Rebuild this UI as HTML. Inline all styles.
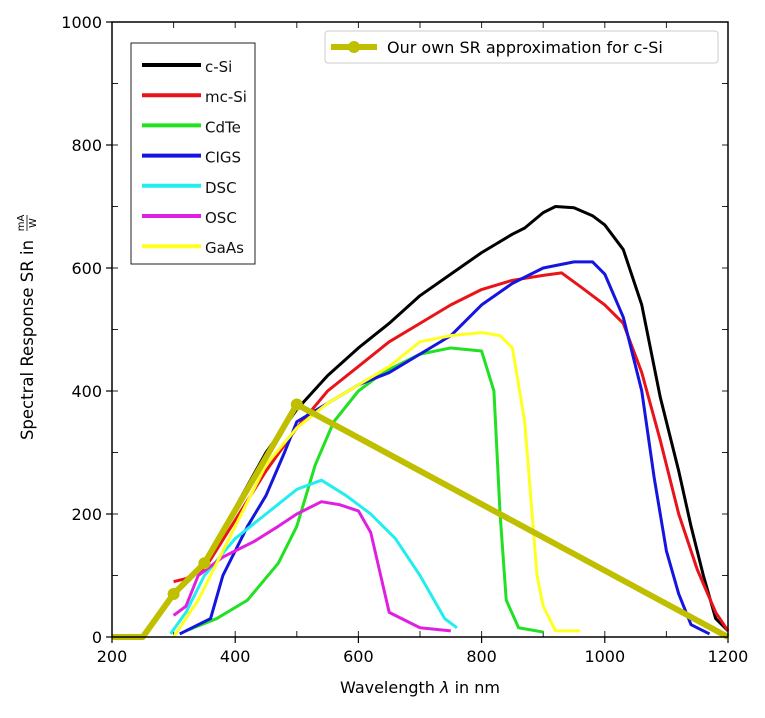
<!DOCTYPE html>
<html><head><meta charset="utf-8"><style>
body{margin:0;background:#fff;}
svg text{font-family:"DejaVu Sans","Liberation Sans",sans-serif;}
</style></head><body>
<svg id="chart" width="765" height="713" viewBox="0 0 765 713">
<g id="plot"></g>
</svg>
<script>
const xTicks=[200,400,600,800,1000,1200];
const yTicks=[0,200,400,600,800,1000];
const names=["c-Si","mc-Si","CdTe","CIGS","DSC","OSC","GaAs"];
const colors=["#000000","#e8141a","#22e022","#1515e0","#22eeee","#e020e0","#ffff22"];
const cSiX=[370,400,450,500,550,600,650,700,750,800,850,870,900,920,950,980,1000,1030,1060,1090,1120,1140,1160,1180,1200];
const cSiY=[150,210,300,370,425,470,510,555,590,625,655,665,690,700,698,685,670,630,540,390,270,180,100,30,10];
const mcSiX=[300,320,350,400,450,500,550,600,650,700,750,800,850,900,930,960,1000,1030,1060,1090,1120,1150,1180,1200];
const mcSiY=[90,95,110,190,270,340,400,440,480,510,540,565,580,588,592,570,540,510,430,320,200,110,40,10];
const cdteX=[320,370,420,470,500,530,560,600,640,700,750,800,820,830,840,860,900];
const cdteY=[10,30,60,120,180,280,350,400,430,460,470,465,400,200,60,15,8];
const cigsX=[310,360,380,420,450,480,500,550,600,650,700,750,800,850,900,950,980,1000,1030,1060,1080,1100,1120,1140,1170];
const cigsY=[5,30,100,180,230,300,350,380,410,430,460,490,540,575,600,610,610,590,520,400,260,140,70,20,5];
const dscX=[295,320,350,400,450,500,540,580,620,660,700,740,760];
const dscY=[5,40,100,160,200,240,255,230,200,160,100,30,15];
const oscX=[300,320,340,380,400,430,470,500,540,570,600,620,650,680,700,750];
const oscY=[35,50,100,130,140,155,180,200,220,215,205,170,40,25,15,10];
const gaasX=[300,340,400,450,500,550,600,650,700,750,800,830,850,870,890,900,920,960];
const gaasY=[0,60,180,280,340,380,410,440,480,490,495,490,470,350,100,50,10,10];
const seriesX=[cSiX,mcSiX,cdteX,cigsX,dscX,oscX,gaasX];
const seriesY=[cSiY,mcSiY,cdteY,cigsY,dscY,oscY,gaasY];
const approxX=[200,250,300,350,500,1200];
const approxY=[0,0,70,120,378,0];
const markerIdx=[2,3,4];

const L=112,R=728,T=22,B=637;
const sx=v=>L+(v-200)/1000*(R-L);
const sy=v=>B-v/1000*(B-T);
const NS="http://www.w3.org/2000/svg";
const svg=document.getElementById('chart');
function mk(tag,attrs,parent){const e=document.createElementNS(NS,tag);for(const k in attrs)e.setAttribute(k,attrs[k]);(parent||svg).appendChild(e);return e;}

for(let v=200;v<=1200;v+=100){
 let t=mk('line',{x1:sx(v),x2:sx(v),y1:T,y2:T+6,stroke:'#222','stroke-width':1});
 
 
 let b=mk('line',{x1:sx(v),x2:sx(v),y1:B,y2:B-6,stroke:'#222','stroke-width':1});
 
 
}
for(let v=100;v<1000;v+=100){
 let t=mk('line',{x1:L,x2:L+6,y1:sy(v),y2:sy(v),stroke:'#222','stroke-width':1});
 
 
 let b=mk('line',{x1:R,x2:R-6,y1:sy(v),y2:sy(v),stroke:'#222','stroke-width':1});
 
 
}

for(let i=0;i<names.length;i++){
 const pts=seriesX[i].map((x,j)=>sx(x)+','+sy(seriesY[i][j])).join(' ');
 const p=mk('polyline',{points:pts,fill:'none',stroke:colors[i],'stroke-width':3,'stroke-linejoin':'round'});
 
 
}
const ap=mk('polyline',{points:approxX.map((x,j)=>sx(x)+','+sy(approxY[j])).join(' '),fill:'none',stroke:'#bfbf00','stroke-width':6,'stroke-linejoin':'round'});


markerIdx.forEach(j=>{
 const c=mk('circle',{cx:sx(approxX[j]),cy:sy(approxY[j]),r:6,fill:'#bfbf00'});
 
 
});

const fr=mk('rect',{x:L,y:T,width:R-L,height:B-T,fill:'none',stroke:'#000','stroke-width':1.5});



xTicks.forEach(v=>{
 const t=mk('line',{x1:sx(v),x2:sx(v),y1:B,y2:B+6,stroke:'#000','stroke-width':1.2});
 
 
 const l=mk('text',{x:sx(v),y:B+25,'text-anchor':'middle','font-size':16});
 l.textContent=v;
 
 
});
yTicks.forEach(v=>{
 const t=mk('line',{x1:L-6,x2:L,y1:sy(v),y2:sy(v),stroke:'#000','stroke-width':1.2});
 
 
 const l=mk('text',{x:L-10,y:sy(v)+6,'text-anchor':'end','font-size':16});
 l.textContent=v;
 
 
});

const lg=mk('g',{});


mk('rect',{x:131,y:43,width:124,height:221,fill:'#fff',stroke:'#222','stroke-width':1},lg);
names.forEach((n,i)=>{
 const y=65+i*30.2;
 mk('line',{x1:142,x2:201,y1:y,y2:y,stroke:colors[i],'stroke-width':4},lg);
 const t=mk('text',{x:205,y:y+7,'font-size':15,'font-family':'Liberation Sans Narrow, Liberation Sans, sans-serif',fill:'#111'},lg);
 t.textContent=n;
 
 
});
</script>
<svg width="765" height="713" style="position:absolute;left:0;top:0">
<g>
<rect x="325" y="31" width="393" height="32" rx="3" fill="#fff" fill-opacity="0.85" stroke="#ccc"/>
<line x1="331" x2="377" y1="47" y2="47" stroke="#bfbf00" stroke-width="6"/>
<circle cx="354" cy="47" r="6" fill="#bfbf00"/>
<text x="387" y="53" font-size="16">Our own SR approximation for c-Si</text>
</g>
<text x="420" y="693" text-anchor="middle" font-size="16">Wavelength <tspan font-style="italic">λ</tspan> in nm</text>
<g transform="translate(33,340) rotate(-90)">
<text x="0" y="0" text-anchor="middle" font-size="16.5">Spectral Response SR in</text>
<text x="117" y="-9" text-anchor="middle" font-size="10">mA</text>
<line x1="109" x2="125" y1="-6" y2="-6" stroke="#000" stroke-width="0.8"/>
<text x="117" y="3" text-anchor="middle" font-size="10">W</text>
</g>
</svg>
</body></html>
